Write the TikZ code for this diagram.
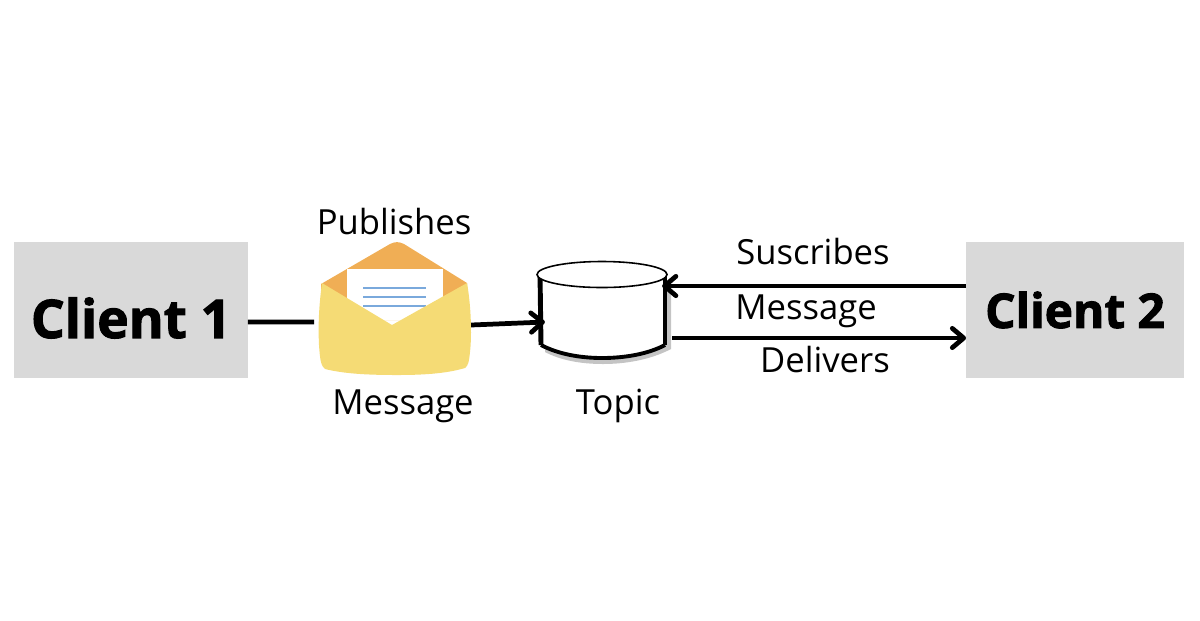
\documentclass[tikz,border=0pt]{standalone}
\usepackage{fontspec}
\setmainfont{Open Sans}
\newfontfamily\heavyfont{Open Sans}[BoldFeatures={FakeBold=2}]
\usetikzlibrary{arrows.meta}
\definecolor{boxgrey}{HTML}{D9D9D9}
\definecolor{flaporange}{HTML}{F0AE55}
\definecolor{envyellow}{HTML}{F5DB75}
\definecolor{lineblue}{HTML}{7AA9DC}
\definecolor{shadowgrey}{HTML}{C4C4C4}
\tikzset{
  clientbox/.style={fill=boxgrey,inner sep=0pt,minimum height=77.1pt},
  caption/.style={inner sep=0pt,font=\fontsize{19.7}{22}\selectfont},
  holder/.style={inner sep=0pt},
  wire/.style={black,line width=2.7pt},
  arrowwire/.style={wire,-{Straight Barb[length=6.5pt,width=11pt,line width=2.7pt,round]}}
}
\begin{document}
\begin{tikzpicture}[x=0.02cm,y=-0.02cm]
\useasboundingbox (0,0) rectangle (1200,620);
\node [clientbox,minimum width=132.7pt] (client1) at (131,310) {};
\node [inner sep=0pt,font=\fontsize{30.3}{30}\selectfont\heavyfont\bfseries] (client1text) at (131,318) {Client 1};
\node [clientbox,minimum width=123.6pt] (client2) at (1075,310) {};
\node [inner sep=0pt,font=\fontsize{27.2}{30}\selectfont\heavyfont\bfseries] (client2text) at (1075,310) {Client 2};
% envelope
\node [holder,minimum width=86.2pt,minimum height=75.4pt] (envelope) at (395,308.5) {};
\fill [flaporange] (321,284) -- (390,244) .. controls (395,241.5) and (399,241.5) .. (404,244) -- (467,283) -- (467,320) -- (321,320) -- cycle;
\fill [white] (347,269) rectangle (443,320);
\draw [lineblue,line width=0.9pt] (363,288) -- (426,288);
\draw [lineblue,line width=0.9pt] (363,297) -- (426,297);
\draw [lineblue,line width=0.9pt] (363,306) -- (426,306);
\fill [envyellow] (322,283) -- (392,325) -- (467,283) .. controls (471,305) and (472,335) .. (470,352) .. controls (469,362) and (468,366) .. (465,368) .. controls (445,374) and (420,375) .. (397,375) .. controls (370,375) and (345,374) .. (325,369) .. controls (321,366) and (320,360) .. (319,345) .. controls (318,325) and (319,305) .. (322,283) -- cycle;
% topic
\node [holder,minimum width=73.7pt,minimum height=55pt] (topic) at (602,309) {};
\fill [shadowgrey] (671,280) -- (671,349) .. controls (650,360) and (625,364) .. (603,364) .. controls (580,364) and (560,360) .. (545,352) -- (545,300) -- cycle;
\fill [white] (540,274) -- (540,345) .. controls (558,354) and (580,358) .. (602,358) .. controls (625,358) and (648,354) .. (665,345) -- (665,274) -- cycle;
\draw [line width=2.8pt] (540,273) -- (541,345);
\draw [line width=2.8pt] (665,273) -- (665,345);
\draw [line width=2.2pt] (541,345) .. controls (558,354) and (580,358) .. (602,358) .. controls (625,358) and (648,354) .. (665,345);
\draw [line width=0.9pt,fill=white] (602,274.5) ellipse (65 and 13);
% connectors
\draw [wire] ([shift={(0,12)}]client1.east) -- ([shift={(-81,13.5)}]envelope.center);
\draw [arrowwire] ([shift={(0,16.5)}]envelope.east) -- ([shift={(8,13)}]topic.west);
\draw [arrowwire] ([shift={(0,-24)}]client2.west) -- ([shift={(-5,-23)}]topic.east);
\draw [arrowwire] ([shift={(5,29)}]topic.east) -- ([shift={(0,28)}]client2.west);
% labels
\node [caption] (publishes) at (394,222) {Publishes};
\node [caption] (msgleft) at (403,406) {Message};
\node [caption] (topiclabel) at (618,406) {Topic};
\node [caption] (suscribes) at (813,252) {Suscribes};
\node [caption] (msgright) at (806,311) {Message};
\node [caption] (delivers) at (825,360) {Delivers};
\end{tikzpicture}
\end{document}
